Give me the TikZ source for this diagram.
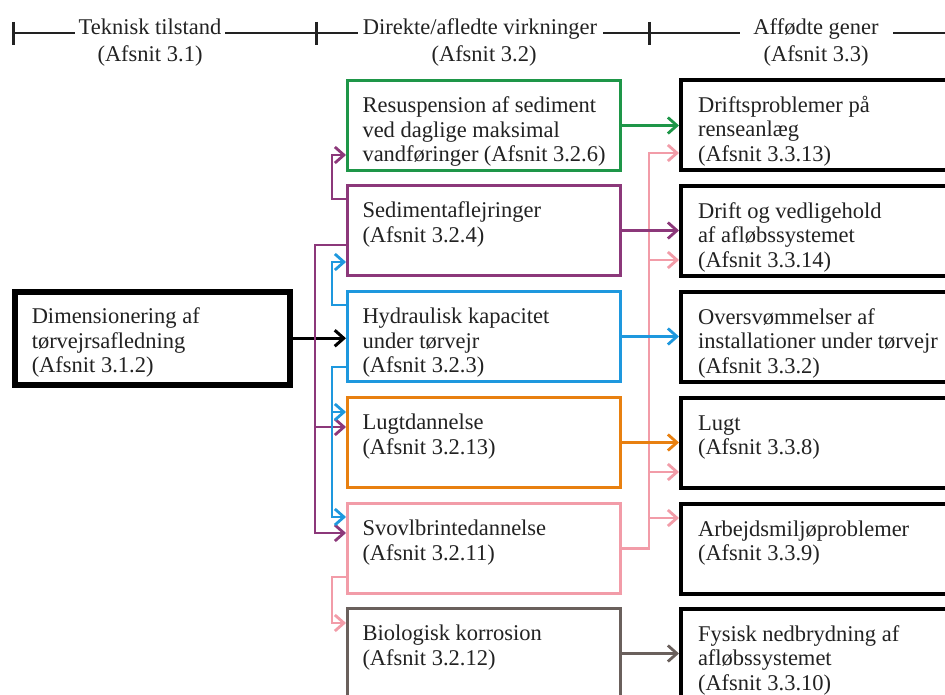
\documentclass[tikz,border=0pt]{standalone}
\usepackage{fontspec}
\setmainfont{Liberation Serif}
\usetikzlibrary{arrows.meta}

\definecolor{cgreen}{RGB}{30,150,72}
\definecolor{cpurple}{RGB}{140,56,122}
\definecolor{cblue}{RGB}{30,152,222}
\definecolor{corange}{RGB}{232,128,16}
\definecolor{cpink}{RGB}{242,156,168}
\definecolor{cbrown}{RGB}{106,96,92}
\definecolor{ink}{RGB}{34,34,34}

% text block of a box: fixed height, text hung from the top
\newcommand{\boxtxt}[3]{\parbox[c][#2][t]{#1}{\raggedright\vspace*{15pt}\strut#3}}

\tikzset{
  txtfont/.style={font=\fontsize{22.5}{24.5}\selectfont, text=ink},
  midbox/.style={draw=#1, line width=3pt, rectangle, anchor=north west,
    inner xsep=15pt, inner ysep=0pt, txtfont},
  resbox/.style={draw=black, line width=4pt, rectangle, anchor=north west,
    inner xsep=17pt, inner ysep=0pt, txtfont},
  srcbox/.style={draw=black, line width=5.5pt, rectangle, anchor=north west,
    inner xsep=17pt, inner ysep=0pt, txtfont},
  conn/.style={line width=2.8pt, -{Straight Barb[length=9pt,width=16pt]}},
  hdrline/.style={draw=ink, line width=2.2pt},
  hdrtick/.style={draw=ink, line width=3pt},
  hdrtxt/.style={txtfont, anchor=base, inner sep=0pt},
}

\begin{document}
\begin{tikzpicture}[x=1pt,y=-1pt]
  \useasboundingbox (0,0) rectangle (945,695);
  \clip (0,0) rectangle (945,695);
  \fill[white] (0,0) rectangle (945,695);

  % column headings
  \node[hdrtxt] (h1a) at (150,35) {Teknisk tilstand};
  \node[hdrtxt] (h1b) at (150,62) {(Afsnit 3.1)};
  \node[hdrtxt] (h2a) at (480,35) {Direkte/afledte virkninger};
  \node[hdrtxt] (h2b) at (484,62) {(Afsnit 3.2)};
  \node[hdrtxt] (h3a) at (816,35) {Affødte gener};
  \node[hdrtxt] (h3b) at (816,62) {(Afsnit 3.3)};
  \draw[hdrline] (13,33) -- (75,33);
  \draw[hdrline] (225,33) -- (316,33);
  \draw[hdrline] (316,33) -- (358,33);
  \draw[hdrline] (603,33) -- (649,33);
  \draw[hdrline] (649,33) -- (740,33);
  \draw[hdrline] (893,33) -- (945,33);
  \draw[hdrtick] (13,22) -- (13,45);
  \draw[hdrtick] (316,22) -- (316,45);
  \draw[hdrtick] (649,22) -- (649,45);

  % technical state
  \node[srcbox, minimum width=275pt] (lb) at (12,289)
    {\boxtxt{241pt}{93pt}{Dimensionering af\\tørvejrsafledning\\(Afsnit 3.1.2)}};

  % direct / derived effects
  \node[midbox=cgreen] (gr) at (346,79)
    {\boxtxt{243pt}{90pt}{Resuspension af sediment\\ved daglige maksimal\\vandføringer (Afsnit 3.2.6)}};
  \node[midbox=cpurple] (sd) at (346,184)
    {\boxtxt{243pt}{90pt}{Sedimentaflejringer\\(Afsnit 3.2.4)}};
  \node[midbox=cblue] (hy) at (346,290)
    {\boxtxt{243pt}{90pt}{Hydraulisk kapacitet\\under tørvejr\\(Afsnit 3.2.3)}};
  \node[midbox=corange] (lg) at (346,396)
    {\boxtxt{243pt}{90pt}{Lugtdannelse\\(Afsnit 3.2.13)}};
  \node[midbox=cpink] (sv) at (346,502)
    {\boxtxt{243pt}{90pt}{Svovlbrintedannelse\\(Afsnit 3.2.11)}};
  \node[midbox=cbrown] (bk) at (346,607)
    {\boxtxt{243pt}{90pt}{Biologisk korrosion\\(Afsnit 3.2.12)}};

  % resulting problems
  \node[resbox] (r1) at (679,78)
    {\boxtxt{266pt}{90pt}{Driftsproblemer på\\renseanlæg\\(Afsnit 3.3.13)}};
  \node[resbox] (r2) at (679,184)
    {\boxtxt{266pt}{90pt}{Drift og vedligehold\\af afløbssystemet\\(Afsnit 3.3.14)}};
  \node[resbox] (r3) at (679,290)
    {\boxtxt{266pt}{90pt}{Oversvømmelser af\\installationer under tørvejr\\(Afsnit 3.3.2)}};
  \node[resbox] (r4) at (679,396)
    {\boxtxt{266pt}{90pt}{Lugt\\(Afsnit 3.3.8)}};
  \node[resbox] (r5) at (679,502)
    {\boxtxt{266pt}{90pt}{Arbejdsmiljøproblemer\\(Afsnit 3.3.9)}};
  \node[resbox] (r6) at (679,607)
    {\boxtxt{266pt}{90pt}{Fysisk nedbrydning af\\afløbssystemet\\(Afsnit 3.3.10)}};

  % vertical bus lines
  \coordinate (pbus) at (315,0);
  \coordinate (lbus) at (332,0);
  \coordinate (rbus) at (649,0);

  % hydrogen sulphide to the problems column (drawn first, crossed by the rest)
  \draw[conn, cpink] (sv.east) -| ([yshift=-75pt]r1.north west -| rbus) -- ([yshift=-75pt]r1.north west);
  \draw[conn, cpink] ([yshift=-76pt]r2.north west -| rbus) -- ([yshift=-76pt]r2.north west);
  \draw[conn, cpink] ([yshift=-76pt]r4.north west -| rbus) -- ([yshift=-76pt]r4.north west);
  \draw[conn, cpink] ([yshift=-16pt]r5.north west -| rbus) -- ([yshift=-16pt]r5.north west);

  % dimensioning to hydraulic capacity
  \draw[conn, black, line width=3pt] (lb.east) -- (lb.east -| hy.west);

  % sediment deposits
  \draw[conn, cpurple] ([yshift=-15pt]sd.north west) -| ([yshift=-76pt]gr.north west -| lbus) -- ([yshift=-76pt]gr.north west);
  \draw[conn, cpurple] ([yshift=-61pt]sd.north west) -| ([yshift=-31pt]sv.north west -| pbus) -- ([yshift=-31pt]sv.north west);
  \draw[conn, cpurple] ([yshift=-31pt]lg.north west -| pbus) -- ([yshift=-31pt]lg.north west);

  % hydraulic capacity
  \draw[conn, cblue] ([yshift=-15pt]hy.north west) -| ([yshift=-78pt]sd.north west -| lbus) -- ([yshift=-78pt]sd.north west);
  \draw[conn, cblue] ([yshift=-77pt]hy.north west) -| ([yshift=-15pt]sv.north west -| lbus) -- ([yshift=-15pt]sv.north west);
  \draw[conn, cblue] ([yshift=-16pt]lg.north west -| lbus) -- ([yshift=-16pt]lg.north west);

  % hydrogen sulphide to corrosion
  \draw[conn, cpink] ([yshift=-75pt]sv.north west) -| ([yshift=-16pt]bk.north west -| lbus) -- ([yshift=-16pt]bk.north west);

  % effects to problems
  \draw[conn, cgreen] (gr.east) -- (gr.east -| r1.west);
  \draw[conn, cpurple] (sd.east) -- (sd.east -| r2.west);
  \draw[conn, cblue] (hy.east) -- (hy.east -| r3.west);
  \draw[conn, corange] (lg.east) -- (lg.east -| r4.west);
  \draw[conn, cbrown] (bk.east) -- (bk.east -| r6.west);
\end{tikzpicture}
\end{document}
